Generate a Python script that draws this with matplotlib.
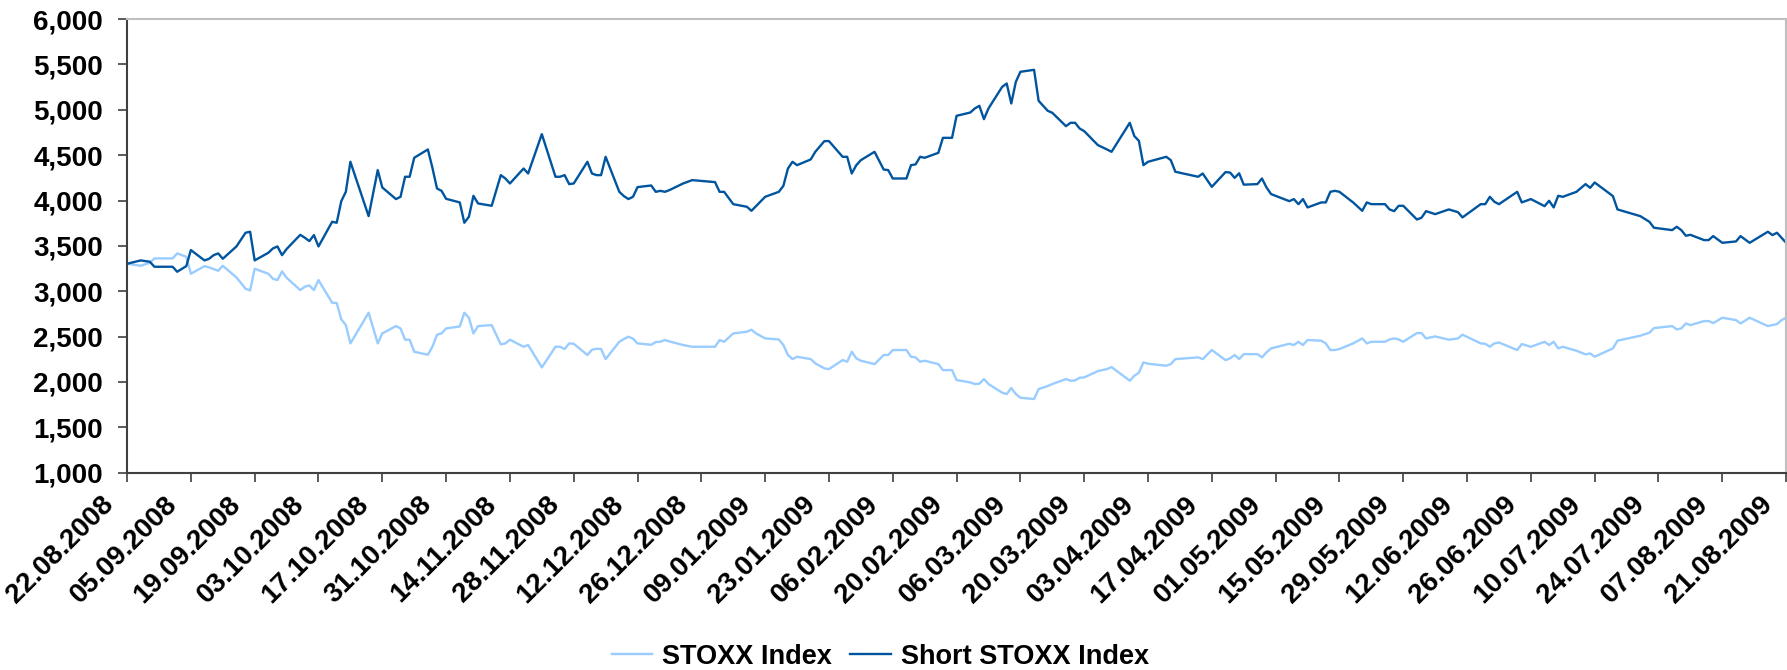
import matplotlib
matplotlib.use("Agg")
import matplotlib.pyplot as plt
import matplotlib.dates as mdates
import matplotlib.ticker as mticker
import matplotlib.transforms as mtransforms
import pandas as pd

# trading days sampled off the chart, with index levels
dates = [
    "2008-08-22", "2008-08-25", "2008-08-27", "2008-08-28", "2008-09-01", "2008-09-02", "2008-09-04",
    "2008-09-05", "2008-09-08", "2008-09-09", "2008-09-10", "2008-09-11", "2008-09-12", "2008-09-15",
    "2008-09-17", "2008-09-18", "2008-09-19", "2008-09-22", "2008-09-23", "2008-09-24", "2008-09-25",
    "2008-09-26", "2008-09-29", "2008-09-30", "2008-10-01", "2008-10-02", "2008-10-03", "2008-10-06",
    "2008-10-07", "2008-10-08", "2008-10-09", "2008-10-10", "2008-10-14", "2008-10-16", "2008-10-17",
    "2008-10-20", "2008-10-21", "2008-10-22", "2008-10-23", "2008-10-24", "2008-10-27", "2008-10-28",
    "2008-10-29", "2008-10-30", "2008-10-31", "2008-11-03", "2008-11-04", "2008-11-05", "2008-11-06",
    "2008-11-07", "2008-11-10", "2008-11-12", "2008-11-13", "2008-11-14", "2008-11-17", "2008-11-18",
    "2008-11-21", "2008-11-24", "2008-11-25", "2008-11-26", "2008-11-27", "2008-11-28", "2008-12-01",
    "2008-12-02", "2008-12-03", "2008-12-04", "2008-12-05", "2008-12-08", "2008-12-09", "2008-12-10",
    "2008-12-11", "2008-12-12", "2008-12-15", "2008-12-16", "2008-12-17", "2008-12-18", "2008-12-19",
    "2008-12-22", "2008-12-24", "2008-12-29", "2008-12-30", "2008-12-31", "2009-01-02", "2009-01-05",
    "2009-01-06", "2009-01-07", "2009-01-09", "2009-01-12", "2009-01-13", "2009-01-14", "2009-01-15",
    "2009-01-16", "2009-01-19", "2009-01-20", "2009-01-22", "2009-01-23", "2009-01-26", "2009-01-27",
    "2009-01-28", "2009-01-29", "2009-01-30", "2009-02-02", "2009-02-04", "2009-02-05", "2009-02-06",
    "2009-02-09", "2009-02-10", "2009-02-11", "2009-02-12", "2009-02-13", "2009-02-16", "2009-02-17",
    "2009-02-19", "2009-02-20", "2009-02-23", "2009-02-24", "2009-02-25", "2009-02-26", "2009-02-27",
    "2009-03-02", "2009-03-03", "2009-03-04", "2009-03-05", "2009-03-06", "2009-03-09", "2009-03-10",
    "2009-03-12", "2009-03-13", "2009-03-16", "2009-03-17", "2009-03-18", "2009-03-19", "2009-03-20",
    "2009-03-23", "2009-03-25", "2009-03-26", "2009-03-30", "2009-03-31", "2009-04-01", "2009-04-02",
    "2009-04-03", "2009-04-07", "2009-04-08", "2009-04-09", "2009-04-14", "2009-04-15", "2009-04-17",
    "2009-04-20", "2009-04-21", "2009-04-22", "2009-04-23", "2009-04-24", "2009-04-27", "2009-04-28",
    "2009-04-29", "2009-04-30", "2009-05-04", "2009-05-05", "2009-05-06", "2009-05-07", "2009-05-08",
    "2009-05-11", "2009-05-12", "2009-05-13", "2009-05-14", "2009-05-15", "2009-05-18", "2009-05-20",
    "2009-05-21", "2009-05-22", "2009-05-25", "2009-05-26", "2009-05-27", "2009-05-28", "2009-05-29",
    "2009-06-01", "2009-06-02", "2009-06-03", "2009-06-05", "2009-06-08", "2009-06-10", "2009-06-11",
    "2009-06-15", "2009-06-16", "2009-06-17", "2009-06-18", "2009-06-19", "2009-06-23", "2009-06-24",
    "2009-06-26", "2009-06-29", "2009-06-30", "2009-07-01", "2009-07-02", "2009-07-03", "2009-07-06",
    "2009-07-08", "2009-07-09", "2009-07-10", "2009-07-14", "2009-07-15", "2009-07-20", "2009-07-22",
    "2009-07-23", "2009-07-27", "2009-07-28", "2009-07-29", "2009-07-30", "2009-07-31", "2009-08-03",
    "2009-08-04", "2009-08-05", "2009-08-07", "2009-08-10", "2009-08-11", "2009-08-13", "2009-08-17",
    "2009-08-18", "2009-08-19", "2009-08-20", "2009-08-21",
]

stoxx = [
    3303, 3281, 3314, 3362, 3362, 3417, 3380, 3193, 3277, 3263, 3245, 3226, 3281, 3152,
    3028, 3009, 3248, 3193, 3138, 3123, 3219, 3149, 3013, 3050, 3064, 3013, 3123, 2873,
    2870, 2690, 2627, 2425, 2763, 2425, 2535, 2616, 2590, 2466, 2466, 2333, 2300, 2388,
    2521, 2535, 2590, 2612, 2763, 2708, 2535, 2616, 2627, 2414, 2425, 2466, 2388, 2407,
    2161, 2388, 2388, 2363, 2425, 2421, 2297, 2355, 2366, 2363, 2252, 2443, 2473, 2499,
    2477, 2425, 2410, 2440, 2443, 2462, 2447, 2407, 2388, 2388, 2462, 2443, 2535, 2554,
    2576, 2535, 2480, 2469, 2407, 2297, 2252, 2278, 2252, 2205, 2150, 2142, 2241, 2223,
    2333, 2260, 2234, 2197, 2297, 2297, 2352, 2352, 2278, 2271, 2223, 2234, 2197, 2131,
    2131, 2021, 1995, 1977, 1981, 2032, 1977, 1882, 1867, 1933, 1867, 1826, 1812, 1922,
    1955, 1977, 2032, 2014, 2017, 2047, 2050, 2120, 2142, 2164, 2014, 2069, 2102, 2216,
    2201, 2179, 2197, 2252, 2271, 2252, 2352, 2241, 2260, 2297, 2252, 2307, 2307, 2271,
    2326, 2370, 2421, 2407, 2443, 2407, 2462, 2455, 2425, 2352, 2352, 2363, 2425, 2480,
    2425, 2443, 2443, 2469, 2480, 2469, 2443, 2539, 2539, 2480, 2502, 2466, 2480, 2521,
    2425, 2421, 2388, 2425, 2435, 2352, 2418, 2388, 2443, 2407, 2443, 2370, 2388, 2344,
    2304, 2315, 2278, 2370, 2455, 2510, 2543, 2594, 2616, 2579, 2590, 2645, 2627, 2671,
    2671, 2649, 2708, 2682, 2645, 2708, 2616, 2627, 2638, 2682, 2708,
]

short_stoxx = [
    3303, 3340, 3325, 3270, 3270, 3215, 3277, 3454, 3340, 3358, 3398, 3417, 3358, 3494,
    3645, 3656, 3340, 3424, 3472, 3494, 3398, 3465, 3622, 3590, 3553, 3619, 3494, 3766,
    3755, 3993, 4096, 4427, 3828, 4335, 4144, 4016, 4041, 4262, 4262, 4471, 4563, 4360,
    4133, 4107, 4019, 3979, 3755, 3821, 4052, 3968, 3942, 4280, 4243, 4188, 4353, 4298,
    4732, 4262, 4262, 4280, 4181, 4188, 4427, 4298, 4280, 4280, 4482, 4096, 4049, 4016,
    4041, 4148, 4166, 4096, 4107, 4096, 4115, 4188, 4225, 4203, 4096, 4096, 3960, 3931,
    3887, 3938, 4041, 4096, 4162, 4353, 4427, 4390, 4453, 4537, 4655, 4655, 4482, 4482,
    4298, 4390, 4445, 4537, 4342, 4335, 4243, 4243, 4390, 4398, 4482, 4471, 4526, 4691,
    4691, 4934, 4970, 5015, 5044, 4897, 5015, 5253, 5290, 5070, 5308, 5419, 5441, 5099,
    4989, 4967, 4820, 4857, 4857, 4794, 4765, 4611, 4563, 4537, 4857, 4710, 4658, 4390,
    4427, 4482, 4445, 4317, 4262, 4298, 4151, 4313, 4309, 4250, 4300, 4175, 4181, 4243,
    4144, 4071, 3993, 4016, 3960, 4016, 3924, 3979, 3979, 4096, 4107, 4096, 3979, 3887,
    3979, 3960, 3960, 3902, 3883, 3942, 3942, 3791, 3810, 3883, 3850, 3902, 3872, 3814,
    3960, 3960, 4041, 3986, 3960, 4096, 3979, 4016, 3938, 3997, 3924, 4052, 4041, 4096,
    4181, 4140, 4199, 4049, 3902, 3828, 3766, 3700, 3674, 3711, 3674, 3612, 3622, 3564,
    3564, 3608, 3534, 3549, 3608, 3534, 3656, 3619, 3645, 3590, 3534,
]

plt.rcParams['font.family'] = ['Liberation Sans', 'DejaVu Sans']
plt.rcParams['font.weight'] = 'bold'

df = pd.DataFrame({"STOXX Index": stoxx, "Short STOXX Index": short_stoxx},
                  index=pd.to_datetime(dates))

fig = plt.figure(figsize=(17.87, 6.70), dpi=100)
ax = fig.add_axes([0.0711, 0.2945, 0.9284, 0.677])

ax.plot(df.index, df["STOXX Index"], color="#99CCFF", lw=1.7, label="STOXX Index")
ax.plot(df.index, df["Short STOXX Index"], color="#00559E", lw=1.7, label="Short STOXX Index")

start = pd.Timestamp("2008-08-22")
end = pd.Timestamp("2009-08-21")
ax.set_xlim(start, end)
ax.set_ylim(1000, 6000)

ticks = pd.date_range(start, end, freq="14D")
ax.set_xticks(ticks)
ax.xaxis.set_major_formatter(mdates.DateFormatter("%d.%m.%Y"))
ax.set_yticks(range(1000, 6001, 500))
ax.yaxis.set_major_formatter(mticker.FuncFormatter(lambda v, p: f"{v:,.0f}"))

ax.tick_params(axis="both", direction="out", length=6.5, width=1.2, color="#404040",
               labelsize=20)
ax.tick_params(axis="y", pad=11)
ax.tick_params(axis="x", pad=7)

# shift the slanted date labels left so they end just before their tick
shift = mtransforms.ScaledTranslation(-0.27, 0, fig.dpi_scale_trans)
for lbl in ax.get_xticklabels():
    lbl.set_rotation(45)
    lbl.set_ha("right")
    lbl.set_va("top")
    lbl.set_rotation_mode("anchor")
    lbl.set_transform(lbl.get_transform() + shift)

for s in ["left", "bottom"]:
    ax.spines[s].set_color("#404040")
    ax.spines[s].set_linewidth(1.5)
for s in ["top", "right"]:
    ax.spines[s].set_color("#BFBFBF")
    ax.spines[s].set_linewidth(1.5)

fig.legend(loc="center", bbox_to_anchor=(0.4925, 0.02), ncol=2, frameon=False,
           fontsize=19.5, handlelength=1.5, columnspacing=0.7, handletextpad=0.35)

fig.savefig("out.png", dpi=100)
